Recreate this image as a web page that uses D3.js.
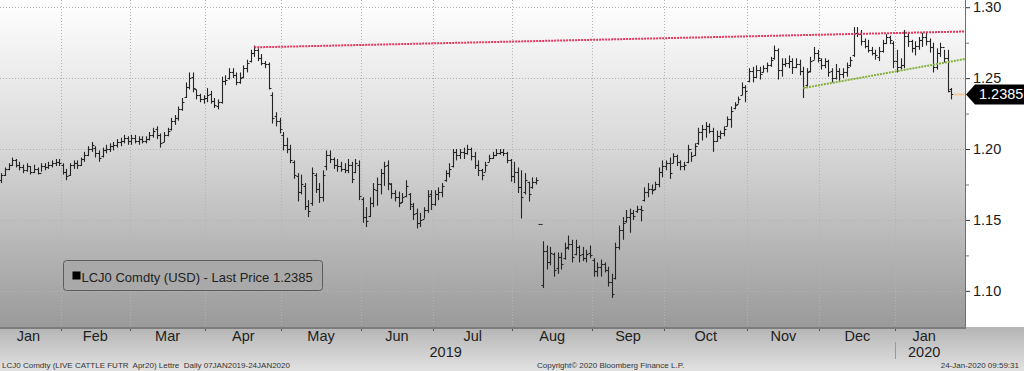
<!DOCTYPE html>
<html>
<head>
<meta charset="utf-8">
<script src="https://cdn.jsdelivr.net/npm/d3@7"></script>
<style>
  body { margin: 0; background: #fff; }
  svg { display: block; font-family: "Liberation Sans", Arial, sans-serif; }
  .foot { white-space: pre; }
</style>
</head>
<body>
<svg id="chart" width="1024" height="371"></svg>
<script>
// month labels and trading days in each month (07JAN2019 - 24JAN2020)
const monthLabels = ["Jan", "Feb", "Mar", "Apr", "May", "Jun", "Jul", "Aug", "Sep", "Oct", "Nov", "Dec", "Jan"];
const monthDays = [18, 19, 21, 21, 22, 20, 22, 22, 20, 23, 20, 21, 16];
const yearLabels = [{ label: "2019", first: 0, last: 11 }, { label: "2020", first: 12, last: 12 }];
const yTicks = [1.10, 1.15, 1.20, 1.25, 1.30];
const yMinorTicks = [1.125, 1.175, 1.225, 1.275];

// daily OHLC bars, one row per month
const opens = [
  1.175,1.178,1.182,1.186,1.189,1.192,1.189,1.187,1.185,1.188,1.184,1.186,1.183,1.188,1.187,1.189,1.190,1.191,
  1.189,1.184,1.182,1.189,1.190,1.189,1.193,1.196,1.200,1.201,1.197,1.195,1.199,1.200,1.202,1.203,1.205,1.206,1.208,
  1.206,1.208,1.206,1.207,1.206,1.207,1.210,1.214,1.210,1.205,1.210,1.214,1.220,1.222,1.228,1.237,1.244,1.251,1.242,1.238,1.235,
  1.236,1.239,1.234,1.230,1.233,1.248,1.250,1.254,1.252,1.247,1.251,1.257,1.262,1.268,1.270,1.264,1.261,1.260,1.238,1.223,1.220,
  1.210,1.203,1.200,1.191,1.181,1.170,1.174,1.160,1.162,1.182,1.172,1.166,1.188,1.196,1.193,1.189,1.188,1.186,1.185,1.189,1.184,1.189,
  1.165,1.152,1.153,1.162,1.171,1.175,1.183,1.189,1.175,1.169,1.166,1.163,1.167,1.168,1.160,1.155,1.148,1.151,1.157,1.168,
  1.161,1.168,1.170,1.178,1.183,1.188,1.198,1.196,1.198,1.197,1.200,1.195,1.189,1.185,1.184,1.191,1.194,1.196,1.197,1.198,1.197,1.192,
  1.181,1.184,1.173,1.170,1.177,1.173,1.177,1.147,1.104,1.128,1.120,1.126,1.116,1.124,1.123,1.131,1.133,1.126,1.131,1.126,1.123,1.127,
  1.122,1.114,1.117,1.119,1.115,1.106,1.109,1.131,1.143,1.149,1.152,1.155,1.156,1.158,1.164,1.170,1.172,1.172,1.175,1.184,
  1.188,1.190,1.190,1.195,1.191,1.188,1.191,1.200,1.196,1.204,1.212,1.214,1.216,1.213,1.206,1.209,1.211,1.216,1.221,1.229,1.232,1.238,1.244,
  1.248,1.255,1.251,1.256,1.254,1.257,1.259,1.264,1.270,1.256,1.260,1.261,1.262,1.258,1.260,1.255,1.245,1.255,1.263,1.268,
  1.263,1.259,1.262,1.255,1.250,1.255,1.253,1.254,1.259,1.266,1.282,1.281,1.276,1.273,1.270,1.268,1.265,1.269,1.275,1.279,1.275,
  1.262,1.258,1.259,1.280,1.276,1.271,1.273,1.277,1.279,1.276,1.272,1.258,1.268,1.272,1.264,1.242
];
const highs = [
  1.181,1.183,1.187,1.190,1.194,1.193,1.191,1.189,1.190,1.188,1.189,1.187,1.190,1.190,1.191,1.192,1.193,1.193,
  1.190,1.186,1.190,1.192,1.192,1.194,1.198,1.202,1.205,1.202,1.199,1.201,1.203,1.204,1.205,1.207,1.208,1.210,1.209,
  1.210,1.210,1.209,1.209,1.209,1.212,1.215,1.216,1.211,1.212,1.215,1.222,1.224,1.230,1.236,1.247,1.254,1.254,1.242,1.239,1.238,
  1.243,1.241,1.236,1.235,1.251,1.252,1.257,1.257,1.254,1.254,1.259,1.263,1.270,1.273,1.271,1.267,1.262,1.261,1.240,1.226,1.222,
  1.212,1.208,1.203,1.192,1.183,1.182,1.176,1.164,1.187,1.183,1.176,1.185,1.199,1.199,1.194,1.193,1.191,1.190,1.193,1.191,1.193,1.192,
  1.166,1.159,1.166,1.176,1.180,1.186,1.191,1.192,1.176,1.171,1.170,1.169,1.178,1.169,1.162,1.158,1.155,1.159,1.171,1.171,
  1.171,1.173,1.176,1.185,1.190,1.200,1.200,1.200,1.201,1.203,1.201,1.198,1.192,1.186,1.191,1.196,1.198,1.200,1.200,1.200,1.198,1.193,
  1.191,1.187,1.185,1.183,1.177,1.180,1.180,1.147,1.135,1.132,1.131,1.127,1.127,1.127,1.134,1.139,1.136,1.136,1.132,1.131,1.129,1.132,
  1.123,1.120,1.122,1.120,1.117,1.112,1.134,1.146,1.152,1.157,1.158,1.157,1.160,1.160,1.173,1.176,1.175,1.177,1.187,1.192,
  1.192,1.194,1.197,1.196,1.192,1.191,1.203,1.198,1.204,1.215,1.217,1.219,1.218,1.215,1.213,1.213,1.216,1.223,1.230,1.233,1.237,1.247,1.245,
  1.257,1.258,1.259,1.258,1.259,1.261,1.265,1.273,1.271,1.264,1.264,1.266,1.264,1.264,1.263,1.258,1.257,1.265,1.272,1.270,
  1.264,1.264,1.263,1.257,1.260,1.257,1.257,1.261,1.265,1.286,1.286,1.284,1.278,1.277,1.272,1.270,1.272,1.277,1.281,1.280,1.276,
  1.270,1.264,1.284,1.282,1.277,1.276,1.279,1.282,1.282,1.278,1.275,1.271,1.275,1.270,1.270,1.243
];
const lows = [
  1.174,1.176,1.181,1.185,1.188,1.187,1.185,1.183,1.184,1.182,1.183,1.182,1.184,1.185,1.186,1.187,1.188,1.188,
  1.182,1.178,1.181,1.186,1.186,1.188,1.191,1.195,1.198,1.194,1.191,1.194,1.197,1.198,1.199,1.201,1.202,1.204,1.203,
  1.203,1.204,1.203,1.204,1.204,1.206,1.208,1.207,1.201,1.205,1.209,1.213,1.217,1.220,1.227,1.236,1.242,1.240,1.235,1.233,1.232,
  1.233,1.232,1.229,1.228,1.232,1.245,1.249,1.250,1.245,1.246,1.250,1.254,1.261,1.265,1.262,1.259,1.257,1.242,1.218,1.216,1.211,
  1.199,1.197,1.190,1.179,1.163,1.168,1.157,1.152,1.160,1.169,1.162,1.163,1.185,1.190,1.186,1.184,1.184,1.183,1.183,1.176,1.183,1.164,
  1.148,1.145,1.152,1.159,1.160,1.168,1.174,1.171,1.165,1.163,1.159,1.162,1.166,1.157,1.150,1.144,1.145,1.151,1.155,1.157,
  1.160,1.164,1.166,1.177,1.180,1.187,1.192,1.193,1.193,1.196,1.192,1.186,1.181,1.178,1.184,1.191,1.193,1.195,1.196,1.195,1.190,1.177,
  1.176,1.169,1.151,1.168,1.163,1.172,1.175,1.147,1.102,1.115,1.118,1.110,1.112,1.115,1.122,1.129,1.120,1.125,1.120,1.121,1.120,1.123,
  1.110,1.110,1.110,1.113,1.103,1.095,1.108,1.129,1.136,1.148,1.141,1.150,1.155,1.149,1.163,1.166,1.168,1.171,1.173,1.180,
  1.185,1.179,1.190,1.188,1.185,1.185,1.190,1.191,1.195,1.203,1.206,1.208,1.211,1.198,1.205,1.207,1.209,1.216,1.215,1.228,1.232,1.238,1.233,
  1.247,1.247,1.250,1.249,1.254,1.254,1.258,1.263,1.249,1.251,1.258,1.257,1.253,1.257,1.252,1.236,1.244,1.254,1.263,1.261,
  1.256,1.257,1.251,1.247,1.249,1.248,1.250,1.251,1.258,1.265,1.279,1.273,1.271,1.268,1.266,1.263,1.262,1.268,1.274,1.274,1.257,
  1.254,1.256,1.257,1.272,1.268,1.266,1.270,1.272,1.273,1.268,1.254,1.256,1.265,1.261,1.240,1.235
];
const closes = [
  1.178,1.182,1.186,1.189,1.192,1.189,1.187,1.185,1.188,1.184,1.186,1.183,1.188,1.187,1.189,1.190,1.191,1.190,
  1.184,1.181,1.189,1.190,1.189,1.193,1.196,1.200,1.203,1.197,1.194,1.199,1.200,1.202,1.203,1.205,1.206,1.208,1.206,
  1.208,1.206,1.207,1.206,1.207,1.210,1.213,1.210,1.204,1.210,1.213,1.220,1.222,1.228,1.233,1.244,1.250,1.243,1.238,1.235,1.236,
  1.238,1.234,1.231,1.233,1.248,1.249,1.254,1.252,1.247,1.250,1.257,1.261,1.268,1.270,1.264,1.261,1.260,1.243,1.222,1.220,1.214,
  1.203,1.200,1.192,1.182,1.170,1.175,1.160,1.156,1.183,1.172,1.166,1.182,1.196,1.193,1.189,1.188,1.186,1.185,1.189,1.179,1.190,1.167,
  1.152,1.149,1.162,1.172,1.175,1.183,1.188,1.176,1.169,1.166,1.162,1.166,1.174,1.161,1.154,1.148,1.150,1.157,1.167,1.161,
  1.168,1.170,1.174,1.183,1.186,1.198,1.196,1.198,1.197,1.200,1.195,1.189,1.185,1.182,1.189,1.194,1.196,1.197,1.198,1.197,1.192,1.181,
  1.184,1.173,1.166,1.178,1.168,1.177,1.178,1.147,1.128,1.120,1.127,1.115,1.124,1.119,1.130,1.133,1.124,1.131,1.125,1.123,1.126,1.125,
  1.114,1.117,1.119,1.115,1.106,1.098,1.131,1.143,1.148,1.152,1.155,1.153,1.158,1.157,1.170,1.172,1.171,1.175,1.184,1.188,
  1.190,1.183,1.195,1.191,1.188,1.189,1.200,1.195,1.202,1.212,1.214,1.216,1.213,1.206,1.209,1.211,1.214,1.221,1.227,1.231,1.235,1.244,1.241,
  1.255,1.251,1.256,1.253,1.257,1.259,1.263,1.270,1.256,1.260,1.261,1.262,1.258,1.260,1.255,1.244,1.254,1.262,1.268,1.264,
  1.259,1.262,1.254,1.250,1.255,1.253,1.254,1.258,1.263,1.282,1.281,1.276,1.273,1.270,1.268,1.266,1.269,1.275,1.279,1.277,1.262,
  1.258,1.259,1.280,1.276,1.271,1.273,1.277,1.279,1.276,1.272,1.258,1.268,1.272,1.264,1.241,1.2385
];

// trend lines drawn by hand on the chart (bar index, price)
const resistance = [[71, 1.2717], [267.8, 1.2829]];
const support = [[223, 1.243], [267.8, 1.2635]];
const lastPrice = 1.2385;

const legendText = "LCJ0 Comdty (USD) - Last Price 1.2385";
const footLeft = "LCJ0 Comdty (LIVE CATTLE FUTR  Apr20) Lettre  Daily 07JAN2019-24JAN2020";
const footMid = "Copyright\u00A9 2020 Bloomberg Finance L.P.";
const footRight = "24-Jan-2020 09:59:31";

const W = 1024, H = 371;
const plotW = 965, plotH = 327;

const svg = d3.select("#chart");
const defs = svg.append("defs");

const bg = defs.append("linearGradient").attr("id", "plotBg")
  .attr("x1", 0).attr("y1", 0).attr("x2", 0).attr("y2", 1);
bg.append("stop").attr("offset", "0%").attr("stop-color", "#ffffff");
bg.append("stop").attr("offset", "45%").attr("stop-color", "#d8d8d8");
bg.append("stop").attr("offset", "100%").attr("stop-color", "#9a9a9a");

const strip = defs.append("linearGradient").attr("id", "stripBg")
  .attr("x1", 0).attr("y1", 0).attr("x2", 0).attr("y2", 1);
strip.append("stop").attr("offset", "0%").attr("stop-color", "#b4b4b4");
strip.append("stop").attr("offset", "100%").attr("stop-color", "#e2e2e2");

defs.append("clipPath").attr("id", "plotClip")
  .append("rect").attr("width", plotW).attr("height", plotH);

// backgrounds
svg.append("rect").attr("width", W).attr("height", H).attr("fill", "#fff");
svg.append("rect").attr("width", plotW).attr("height", plotH).attr("fill", "url(#plotBg)");
svg.append("rect").attr("y", plotH).attr("width", W).attr("height", H - plotH).attr("fill", "url(#stripBg)");
svg.append("rect").attr("y", plotH).attr("width", plotW + 1).attr("height", 2).attr("fill", "#7c7c7c");

// scales
const x = d3.scaleLinear().domain([0.61, 267.8]).range([0, plotW]);
const y = d3.scaleLinear().domain([1.0745, 1.3051]).range([plotH, 0]);

const monthStart = d3.cumsum([0].concat(monthDays.slice(0, -1)));
const monthEdges = monthStart.slice(1).map(s => s - 0.5);

const plot = svg.append("g").attr("clip-path", "url(#plotClip)");

// dotted grid
plot.append("g").selectAll("line.h")
  .data(yTicks)
  .enter().append("line")
  .attr("x1", 0).attr("x2", plotW)
  .attr("y1", d => Math.round(y(d)) + 0.5).attr("y2", d => Math.round(y(d)) + 0.5)
  .attr("stroke", "#b3b3b3").attr("stroke-dasharray", "1,2");

plot.append("g").selectAll("line.v")
  .data(monthEdges)
  .enter().append("line")
  .attr("x1", d => Math.round(x(d)) + 0.5).attr("x2", d => Math.round(x(d)) + 0.5)
  .attr("y1", 0).attr("y2", plotH)
  .attr("stroke", "#b3b3b3").attr("stroke-dasharray", "1,2");

// OHLC bars
const bars = d3.range(closes.length).map(i => ({
  i: i, o: opens[i], h: highs[i], l: lows[i], c: closes[i]
}));

const barG = plot.append("g").attr("stroke", "#242424").attr("stroke-width", 1.1);
const bar = barG.selectAll("g").data(bars).enter().append("g")
  .attr("transform", d => "translate(" + (Math.round(x(d.i)) + 0.5) + ",0)");
bar.append("line")
  .attr("y1", d => y(d.h)).attr("y2", d => y(d.l));
bar.append("line")
  .attr("x1", -2).attr("x2", 0)
  .attr("y1", d => Math.round(y(d.o)) + 0.5).attr("y2", d => Math.round(y(d.o)) + 0.5);
bar.append("line")
  .attr("x1", 0).attr("x2", 2)
  .attr("y1", d => Math.round(y(d.c)) + 0.5).attr("y2", d => Math.round(y(d.c)) + 0.5);

// trend lines
plot.append("line")
  .attr("x1", x(resistance[0][0])).attr("y1", y(resistance[0][1]))
  .attr("x2", x(resistance[1][0])).attr("y2", y(resistance[1][1]))
  .attr("stroke", "#e8345e").attr("stroke-width", 2).attr("stroke-dasharray", "2,1");
plot.append("line")
  .attr("x1", x(support[0][0])).attr("y1", y(support[0][1]))
  .attr("x2", x(support[1][0])).attr("y2", y(support[1][1]))
  .attr("stroke", "#86b03a").attr("stroke-width", 2).attr("stroke-dasharray", "2,1");

// last price guide
plot.append("line")
  .attr("x1", x(closes.length - 1) + 2).attr("x2", plotW)
  .attr("y1", y(lastPrice)).attr("y2", y(lastPrice))
  .attr("stroke", "#f2c9a2").attr("stroke-width", 2);

// plot frame on the right
svg.append("line")
  .attr("x1", plotW + 0.5).attr("x2", plotW + 0.5).attr("y1", 0).attr("y2", plotH)
  .attr("stroke", "#6e6e6e");

// y axis
const yAxis = svg.append("g")
  .attr("transform", "translate(" + (plotW + 1) + ",0)")
  .call(d3.axisRight(y).tickValues(yTicks).tickSize(4).tickPadding(3).tickFormat(d3.format(".2f")));
yAxis.select(".domain").remove();
yAxis.selectAll(".tick line").attr("stroke", "#333");
yAxis.selectAll("text").attr("fill", "#1a1a1a").style("font-size", "14.5px")
  .style("font-family", "'Liberation Sans', Arial, sans-serif");

const yMinor = svg.append("g")
  .attr("transform", "translate(" + (plotW + 1) + ",0)")
  .call(d3.axisRight(y).tickValues(yMinorTicks).tickSize(3).tickFormat(""));
yMinor.select(".domain").remove();
yMinor.selectAll(".tick line").attr("stroke", "#777");

// last price tag
const yl = y(lastPrice);
svg.append("path")
  .attr("d", d3.line()([[plotW + 1, yl], [plotW + 10, yl - 10], [W, yl - 10], [W, yl + 10], [plotW + 10, yl + 10]]) + "Z")
  .attr("fill", "#000");
svg.append("text")
  .attr("x", plotW + 14).attr("y", yl + 5)
  .attr("fill", "#fff").style("font-size", "14.5px")
  .text(d3.format(".4f")(lastPrice));

// x axis labels
const xAxis = svg.append("g");
xAxis.selectAll("line")
  .data(monthEdges)
  .enter().append("line")
  .attr("x1", d => Math.round(x(d)) + 0.5).attr("x2", d => Math.round(x(d)) + 0.5)
  .attr("y1", plotH + 2).attr("y2", plotH + 4)
  .attr("stroke", "#555");
xAxis.selectAll("text.m")
  .data(monthLabels)
  .enter().append("text")
  .attr("x", (d, k) => x(monthStart[k] + monthDays[k] / 2 - 0.5))
  .attr("y", 341)
  .attr("text-anchor", "middle")
  .attr("fill", "#1e1e1e").style("font-size", "14.5px")
  .text(d => d);
// year label centred over its months
xAxis.selectAll("text.yr")
  .data(yearLabels)
  .enter().append("text")
  .attr("x", d => x((monthStart[d.first] - 0.5 + monthStart[d.last] + monthDays[d.last] - 0.5) / 2))
  .attr("y", 357)
  .attr("text-anchor", "middle")
  .attr("fill", "#1e1e1e").style("font-size", "14.5px")
  .text(d => d.label);
// year separator
xAxis.append("line")
  .attr("x1", Math.round(x(monthEdges[monthEdges.length - 1])) + 0.5)
  .attr("x2", Math.round(x(monthEdges[monthEdges.length - 1])) + 0.5)
  .attr("y1", 342).attr("y2", 359)
  .attr("stroke", "#999");

// legend
const legend = svg.append("g").attr("transform", "translate(63.5,260.5)");
legend.append("rect")
  .attr("width", 259).attr("height", 30).attr("rx", 3)
  .attr("fill", "#a9a9a9").attr("stroke", "#5c5c5c");
legend.append("rect")
  .attr("x", 9).attr("y", 11).attr("width", 8).attr("height", 8).attr("fill", "#000");
legend.append("text")
  .attr("x", 18).attr("y", 21)
  .attr("fill", "#222").style("font-size", "13px")
  .text(legendText);

// footer
svg.append("text").attr("class", "foot").attr("x", 2).attr("y", 368)
  .attr("fill", "#333").style("font-size", "8px").text(footLeft);
svg.append("text").attr("class", "foot").attr("x", 537).attr("y", 368)
  .attr("fill", "#333").style("font-size", "8px").text(footMid);
svg.append("text").attr("class", "foot").attr("x", 1019).attr("y", 368).attr("text-anchor", "end")
  .attr("fill", "#333").style("font-size", "8px").text(footRight);
</script>
</body>
</html>
